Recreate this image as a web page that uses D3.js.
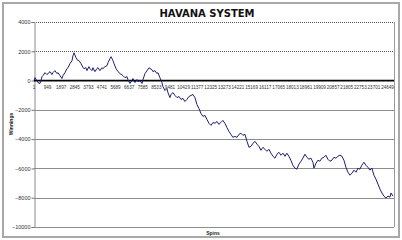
<!DOCTYPE html>
<html><head><meta charset="utf-8">
<script src="https://cdn.jsdelivr.net/npm/d3@7"></script>
<style>html,body{margin:0;padding:0;background:#fff;}svg{display:block;}</style>
</head><body>
<script>
const title = "HAVANA SYSTEM";
const xTitle = "Spins";
const yTitle = "Winnings";
const yTicks = [4000, 2000, 0, -2000, -4000, -6000, -8000, -10000];
const xTickLabels = [1, 949, 1897, 2845, 3793, 4741, 5689, 6637, 7585, 8533, 9481, 10429, 11377, 12325, 13273, 14221, 15169, 16117, 17065, 18013, 18961, 19909, 20857, 21805, 22753, 23701, 24649];
const spins = [1,70,210,280,420,560,630,770,900,980,1120,1250,1320,1460,1600,1670,1810,1950,2020,2160,2300,2370,2510,2650,2720,2790,2930,3000,3140,3280,3420,3490,3620,3690,3830,3900,4040,4110,4250,4390,4460,4600,4740,4810,4950,5090,5160,5300,5370,5510,5580,5720,5860,6000,6200,6340,6480,6550,6690,6830,6900,7040,7180,7250,7390,7530,7600,7740,7880,8020,8090,8220,8290,8430,8570,8640,8780,8920,8990,9130,9270,9340,9480,9550,9690,9830,9970,10110,10250,10390,10520,10660,10800,10940,11080,11220,11360,11500,11640,11780,11920,12060,12200,12340,12480,12620,12760,12890,13030,13170,13310,13450,13590,13730,13870,14010,14150,14290,14430,14570,14710,14850,14990,15130,15270,15410,15550,15680,15820,15960,16100,16240,16380,16520,16660,16800,16940,17080,17220,17360,17500,17630,17770,17910,18050,18190,18330,18470,18610,18750,18890,19030,19170,19310,19450,19520,19660,19800,19930,20070,20210,20350,20490,20630,20770,20910,21050,21190,21330,21470,21610,21750,21890,22030,22170,22310,22450,22590,22720,22860,23000,23140,23280,23420,23560,23700,23840,23980,24120,24260,24400,24540,24680,24820,24890,25030];
const winnings = [0,200,0,-140,-200,270,340,540,410,480,610,410,540,680,480,540,340,140,340,540,820,880,1160,1360,1700,1900,1560,1430,1360,1160,880,820,880,680,950,820,680,880,610,820,880,680,880,820,950,1020,1220,1500,1630,1360,1160,820,610,480,340,200,270,70,-200,0,140,-140,70,-70,0,-200,70,480,680,880,820,750,610,680,480,540,200,-140,-410,-680,-540,-820,-1160,-950,-820,-1020,-1160,-1090,-1290,-1220,-1430,-1290,-1090,-1020,-950,-1160,-1630,-1900,-2240,-2450,-2380,-2650,-2920,-3060,-2860,-2920,-2790,-2990,-2860,-2720,-2920,-3200,-3470,-3670,-3880,-3810,-3880,-3670,-3600,-3740,-3670,-4150,-4560,-4490,-4280,-4150,-4350,-4490,-4760,-4560,-4690,-4830,-4690,-4960,-5170,-5300,-5030,-4900,-5100,-4960,-5170,-4960,-5170,-5440,-5780,-5980,-6050,-5710,-5510,-5300,-5030,-5240,-5370,-5300,-5580,-5980,-5650,-5440,-5510,-5300,-5240,-5100,-5370,-5510,-5440,-5240,-5300,-5170,-5100,-5170,-5440,-5920,-6260,-6460,-6320,-6120,-6260,-5980,-6050,-5780,-5580,-5780,-5920,-6120,-5980,-6460,-6730,-7070,-7410,-7680,-7890,-8020,-7890,-7960,-7680,-7890];

const W = 402, H = 240;
const svg = d3.select("body").append("svg").attr("width", W).attr("height", H);
svg.append("rect").attr("x", 0).attr("y", 0).attr("width", W).attr("height", H).attr("fill", "#fff");
svg.append("rect").attr("x", 3).attr("y", 3).attr("width", 396).attr("height", 234)
  .attr("fill", "#fff").attr("stroke", "#a8a8a8").attr("stroke-width", 2);

const x = d3.scaleLinear().domain([1, 25100]).range([34, 394]);
const y = d3.scaleLinear().domain([-10000, 4000]).range([227, 22]);

// gridlines
svg.append("g").selectAll("line").data(yTicks.filter(v => v !== 0)).join("line")
  .attr("x1", 34).attr("x2", 394).attr("y1", d => Math.round(y(d)) + 0.5).attr("y2", d => Math.round(y(d)) + 0.5)
  .attr("stroke", d => d > 0 ? "#555" : "#8c8c8c").attr("stroke-width", 1)
  .attr("stroke-dasharray", d => d > 0 ? "1,1" : null);

// plot border right
svg.append("line").attr("x1", 394.5).attr("x2", 394.5).attr("y1", y(4000)).attr("y2", y(-10000)).attr("stroke", "#9a9a9a");

// y axis
const yAxis = d3.axisLeft(y).tickValues(yTicks).tickSize(3).tickFormat(d3.format("d"));
const ya = svg.append("g").attr("transform", "translate(34.5,0)").call(yAxis);
ya.select(".domain").attr("stroke", "#8c8c8c");
ya.selectAll(".tick line").attr("stroke", "#777");
ya.selectAll("text").attr("font-family", "Liberation Sans, Arial, sans-serif").attr("font-size", 5.5).attr("fill", "#333").attr("x", -4);

// zero line
svg.append("line").attr("x1", 34).attr("x2", 394).attr("y1", y(0)).attr("y2", y(0)).attr("stroke", "#000").attr("stroke-width", 1.8);

// x labels along zero line
svg.append("g").selectAll("text").data(xTickLabels).join("text")
  .attr("x", d => x(d)).attr("y", y(0) + 8).attr("text-anchor", "middle")
  .attr("font-family", "Liberation Sans, Arial, sans-serif").attr("font-size", 4.6).attr("fill", "#333")
  .text(d => d);

// line
const line = d3.line().x((d, i) => x(spins[i])).y(d => y(d));
svg.append("path").datum(winnings).attr("d", line).attr("fill", "none")
  .attr("stroke", "#1c1c72").attr("stroke-width", 1).attr("stroke-linejoin", "round");

// titles
svg.append("text").attr("x", 207).attr("y", 16.5).attr("text-anchor", "middle")
  .attr("font-family", "DejaVu Sans, Verdana, sans-serif").attr("font-weight", "bold").attr("font-size", 10)
  .attr("fill", "#111").text(title);
svg.append("text").attr("x", 213).attr("y", 235).attr("text-anchor", "middle")
  .attr("font-family", "Liberation Sans, Arial, sans-serif").attr("font-weight", "bold").attr("font-size", 5)
  .attr("fill", "#222").text(xTitle);
svg.append("text").attr("transform", "translate(13,124) rotate(-90)").attr("text-anchor", "middle")
  .attr("font-family", "Liberation Sans, Arial, sans-serif").attr("font-weight", "bold").attr("font-size", 5)
  .attr("fill", "#222").text(yTitle);
</script>
</body></html>
